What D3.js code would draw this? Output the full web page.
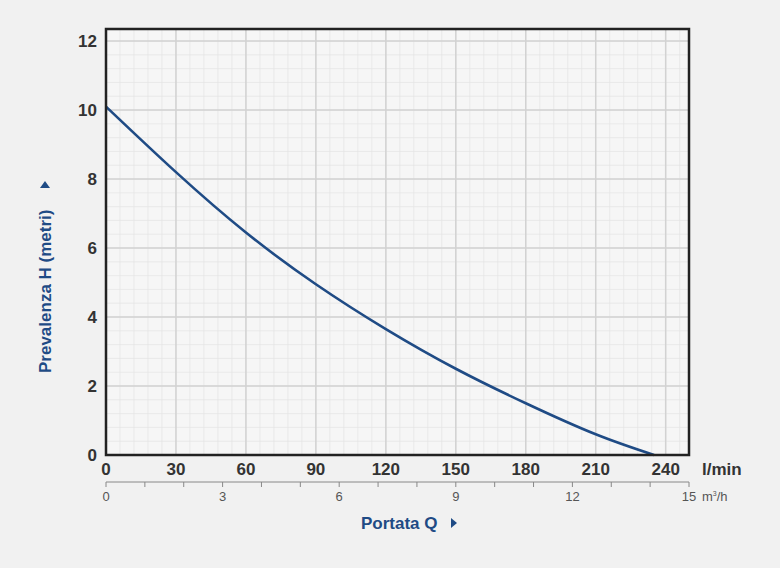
<!DOCTYPE html>
<html><head><meta charset="utf-8">
<script src="https://cdn.jsdelivr.net/npm/d3@7"></script>
<style>body{margin:0;background:#f1f1f1}svg{font-family:"Liberation Sans",Arial,sans-serif}</style>
</head><body><svg id="c" width="780" height="568"></svg>
<script>
var
  flowLmin = [0, 30, 60, 90, 120, 150, 180, 210, 235],
  headM = [10.1, 8.2, 6.45, 4.95, 3.65, 2.5, 1.5, 0.6, 0],
  xTicks = [0, 30, 60, 90, 120, 150, 180, 210, 240],
  yTicks = [0, 2, 4, 6, 8, 10, 12],
  m3Ticks = d3.range(0, 16),
  m3Labels = [0, 3, 6, 9, 12, 15];

var svg = d3.select("#c"),
  L = 106, R = 689, T = 29, B = 455, blue = "#1f4b85";

var x = d3.scaleLinear().domain([0, 250]).range([L, R]),
  y = d3.scaleLinear().domain([0, 12.35]).range([B, T]),
  xm = d3.scaleLinear().domain([0, 15]).range([L, R]);

svg.append("rect").attr("x", L).attr("y", T).attr("width", R - L).attr("height", B - T).attr("fill", "#f6f6f6");

// minor grid
var g = svg.append("g");
g.selectAll(".mx").data(d3.range(0, 250, 6)).enter().append("line")
  .attr("x1", x).attr("x2", x).attr("y1", T).attr("y2", B).attr("stroke", "#e4e4e4").attr("stroke-width", 0.7);
g.selectAll(".my").data(d3.range(0, 12.35, 0.4)).enter().append("line")
  .attr("y1", y).attr("y2", y).attr("x1", L).attr("x2", R).attr("stroke", "#e4e4e4").attr("stroke-width", 0.7);
// major grid
g.selectAll(".gx").data(xTicks).enter().append("line")
  .attr("x1", x).attr("x2", x).attr("y1", T).attr("y2", B).attr("stroke", "#d2d2d2").attr("stroke-width", 1.5);
g.selectAll(".gy").data(yTicks).enter().append("line")
  .attr("y1", y).attr("y2", y).attr("x1", L).attr("x2", R).attr("stroke", "#d2d2d2").attr("stroke-width", 1.5);

svg.append("path").datum(flowLmin.map(function(d, i){ return [d, headM[i]]; }))
  .attr("d", d3.line().x(function(d){ return x(d[0]); }).y(function(d){ return y(d[1]); }).curve(d3.curveNatural))
  .attr("fill", "none").attr("stroke", blue).attr("stroke-width", 2.6);

svg.append("rect").attr("x", L).attr("y", T).attr("width", R - L).attr("height", B - T)
  .attr("fill", "none").attr("stroke", "#222").attr("stroke-width", 2.5);

svg.selectAll(".xl").data(xTicks).enter().append("text")
  .attr("x", x).attr("y", 475).attr("text-anchor", "middle").attr("font-size", 17).attr("font-weight", "bold").attr("fill", "#333").text(String);
svg.selectAll(".yl").data(yTicks).enter().append("text")
  .attr("x", 97).attr("y", function(d){ return y(d) + 6; }).attr("text-anchor", "end").attr("font-size", 17).attr("font-weight", "bold").attr("fill", "#333").text(String);
svg.append("text").attr("x", 702).attr("y", 475).attr("font-size", 17).attr("font-weight", "bold").attr("fill", "#333").text("l/min");

// m3/h axis
svg.append("line").attr("x1", L).attr("x2", R).attr("y1", 482).attr("y2", 482).attr("stroke", "#888");
svg.selectAll(".mt").data(m3Ticks).enter().append("line")
  .attr("x1", xm).attr("x2", xm).attr("y1", 482).attr("y2", 487).attr("stroke", "#888");
svg.selectAll(".ml").data(m3Labels).enter().append("text")
  .attr("x", xm).attr("y", 501).attr("text-anchor", "middle").attr("font-size", 13).attr("fill", "#555").text(String);
var u = svg.append("text").attr("x", 702).attr("y", 501).attr("font-size", 13).attr("fill", "#555");
u.append("tspan").text("m");
u.append("tspan").attr("font-size", 7).attr("dy", -5).text("3");
u.append("tspan").attr("dy", 5).text("/h");

svg.append("text").attr("x", 361).attr("y", 529).attr("font-size", 17).attr("font-weight", "bold").attr("fill", blue).text("Portata Q");
svg.append("path").attr("d", "M451,518 L457,523 L451,528 Z").attr("fill", blue);

svg.append("text").attr("transform", "translate(51,373) rotate(-90)").attr("font-size", 17).attr("font-weight", "bold").attr("fill", blue).text("Prevalenza H (metri)");
svg.append("path").attr("d", "M40,188 L45,181 L50,188 Z").attr("fill", blue);
</script></body></html>
